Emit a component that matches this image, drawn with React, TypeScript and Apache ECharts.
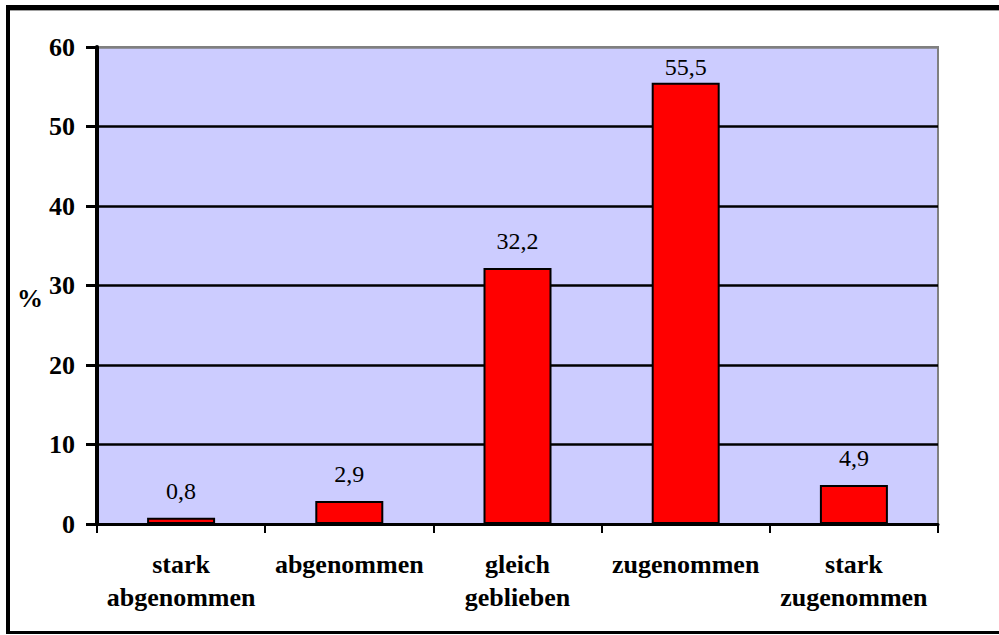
import React, { useEffect, useRef } from "react";
import * as echarts from "echarts";

const categories = ["stark\nabgenommen", "abgenommen", "gleich\ngeblieben", "zugenommen", "stark\nzugenommen"];
const values = [0.8, 2.9, 32.2, 55.5, 4.9];
const yMin = 0;
const yMax = 60;
const yInterval = 10;
const yName = "%";

const FONT = "Liberation Serif";

export default function App() {
  const ref = useRef<HTMLDivElement>(null);
  useEffect(() => {
    if (!ref.current) return;
    const chart = echarts.init(ref.current, undefined, { renderer: "svg" });
    const splitColors = [] as string[];
    for (let v = yMin; v <= yMax; v += yInterval) splitColors.push(v === yMax ? "#808080" : "#000000");
    const gridTop = 47;
    const gridBottom = 111;
    const plotH = 635 - gridTop - gridBottom;
    const labelGap = 15;
    const labelBox = 24;
    const minLabelTop = gridTop + 8;
    // Like the original (Excel), keep value labels inside the plot area
    const seriesData = values.map((v) => {
      const barTop = gridTop + plotH * (1 - (v - yMin) / (yMax - yMin));
      const top = barTop - labelGap - labelBox;
      const d = top < minLabelTop ? Math.max(2, labelGap - (minLabelTop - top)) : labelGap;
      return { value: v, label: { distance: d } };
    });
    chart.setOption({
      animation: false,
      backgroundColor: "#ffffff",
      grid: {
        left: 97,
        right: 61,
        top: gridTop,
        bottom: gridBottom,
        show: true,
        backgroundColor: "#CCCCFF",
        borderColor: "#808080",
        borderWidth: 2,
      },
      xAxis: {
        type: "category",
        data: categories,
        axisLine: { lineStyle: { color: "#000", width: 3 } },
        axisTick: { show: true, interval: 0, length: 9, lineStyle: { color: "#000", width: 2 } },
        axisLabel: {
          interval: 0,
          margin: 24,
          fontFamily: FONT,
          fontWeight: "bold",
          fontSize: 26,
          lineHeight: 33,
          color: "#000",
        },
        splitLine: { show: false },
      },
      yAxis: {
        type: "value",
        min: yMin,
        max: yMax,
        interval: yInterval,
        axisLine: { show: true, lineStyle: { color: "#000", width: 4 } },
        axisTick: { show: true, length: 11, lineStyle: { color: "#000", width: 3 } },
        axisLabel: {
          margin: 22,
          fontFamily: FONT,
          fontWeight: "bold",
          fontSize: 26,
          color: "#000",
        },
        splitLine: { show: true, lineStyle: { color: splitColors, width: 2.5 } },
      },
      series: [
        {
          type: "bar",
          data: seriesData,
          barWidth: 68,
          itemStyle: { color: "#FF0000", borderColor: "#000", borderWidth: 2 },
          label: {
            show: true,
            position: "top",
            distance: labelGap,
            fontFamily: FONT,
            fontSize: 24,
            color: "#000",
            formatter: (p: any) => String(p.value).replace(".", ","),
          },
        },
      ],
      graphic: [
        { type: "rect", shape: { x: 6, y: 5, width: 993, height: 5 }, style: { fill: "#000" }, silent: true },
        { type: "rect", shape: { x: 10, y: 10, width: 989, height: 1 }, style: { fill: "#a0a0a0" }, silent: true },
        { type: "rect", shape: { x: 6, y: 5, width: 4, height: 629 }, style: { fill: "#000" }, silent: true },
        { type: "rect", shape: { x: 6, y: 631, width: 993, height: 3 }, style: { fill: "#000" }, silent: true },
        {
          type: "text",
          x: 17,
          y: 298,
          style: {
            text: yName,
            fontFamily: FONT,
            fontWeight: "bold",
            fontSize: 26,
            fill: "#000",
            verticalAlign: "middle",
            align: "left",
          },
          silent: true,
        },
      ],
    });
    return () => chart.dispose();
  }, []);
  return (
    <div
      ref={ref}
      style={{ position: "absolute", left: 0, top: 0, width: 999, height: 635 }}
    />
  );
}
